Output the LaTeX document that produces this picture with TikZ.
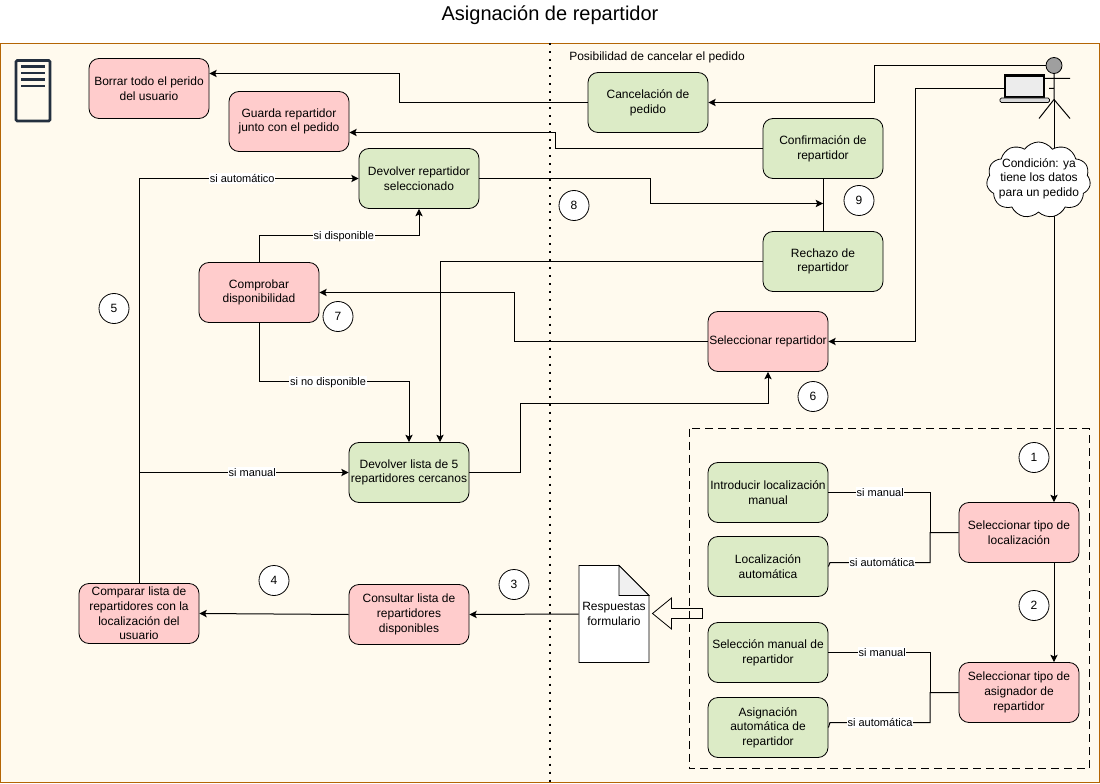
\documentclass[tikz,border=0pt]{standalone}
\usepackage{fontspec}
\setmainfont{Liberation Sans}
\usetikzlibrary{arrows.meta, shapes.symbols, calc}
\definecolor{panelcream}{HTML}{FFFAEE}
\definecolor{panelorange}{HTML}{B46504}
\definecolor{boxgreen}{HTML}{DCEBC6}
\definecolor{boxred}{HTML}{FFCCCC}
\definecolor{servernavy}{HTML}{232F3E}
\tikzset{
  lbl/.style={font=\fontsize{9}{11}\selectfont, text=black, align=center},
  tag/.style={font=\fontsize{8.25}{9}\selectfont, fill=white, inner xsep=0.5pt, inner ysep=0pt, text height=7pt, text depth=1pt},
  card/.style={fill=#1, draw=black, rounded corners=7.5pt, line width=0.6pt, lbl,
               minimum width=90pt, minimum height=45pt, inner sep=0pt},
  card/.default=boxgreen,
  flow/.style={-{Stealth[length=5.5pt,width=5.5pt,inset=1.2pt]}, line width=0.75pt, color=black},
  link/.style={line width=0.75pt, color=black},
  stepnum/.style={circle, draw=black, fill=white, line width=0.6pt, minimum size=22.5pt, inner sep=0pt, lbl},
}
\begin{document}
\begin{tikzpicture}[x=0.75pt, y=-0.75pt]
  \useasboundingbox (0,-0.5) rectangle (1100,783.5);
  \fill[white] (0,-0.5) rectangle (1100,783.5);
  \node[font=\fontsize{15}{18}\selectfont] (title) at (550,14.5) {Asignación de repartidor};
  \draw[fill=panelcream, draw=panelorange, line width=0.75pt] (0.5,43) rectangle (1099.5,782);
  \draw[line width=1.3pt, dash pattern=on 1.5pt off 4.5pt] (550,43) -- (550,782);
  % form arrow
  \draw[black, fill=panelcream, line width=0.6pt] (652.5,613) -- (671.5,597.5) -- (671.5,608) -- (702.5,608) -- (702.5,618) -- (671.5,618) -- (671.5,628.5) -- cycle;
  \draw[dash pattern=on 6pt off 3.75pt, line width=0.6pt] (689,428) rectangle (1089,768);
  \node[lbl, anchor=west, inner sep=0pt] (note) at (569,57) {Posibilidad de cancelar el pedido};
  % server icon
  \draw[servernavy, line width=2pt, rounded corners=1pt] (16,60) rectangle (50,120.5);
  \foreach \y in {66,72.5,79,85.5} { \draw[servernavy, line width=2.1pt] (21,\y) -- (45,\y); }
  % boxes
  \node[card=boxred] (borrar) at (149,88) {Borrar todo el perido\\del usuario};
  \node[card=boxred] (guarda) at (289,121) {Guarda repartidor\\junto con el pedido};
  \node[card] (devrep) at (419,178) {Devolver repartidor\\seleccionado};
  \node[card] (cancel) at (648,102) {Cancelación de\\pedido};
  \node[card] (confirm) at (823,148) {Confirmación de\\repartidor};
  \node[card] (rechazo) at (823,261) {Rechazo de\\repartidor};
  \node[card=boxred] (comprobar) at (259,292) {Comprobar\\disponibilidad};
  \node[card=boxred] (selrep) at (768,341) {Seleccionar repartidor};
  \node[card] (devlista) at (409,472) {Devolver lista de 5\\repartidores cercanos};
  \node[card] (intro) at (768,492) {Introducir localización\\manual};
  \node[card] (locauto) at (768,566) {Localización\\automática};
  \node[card=boxred] (tipoloc) at (1019,532) {Seleccionar tipo de\\localización};
  \node[card] (selman) at (768,652) {Selección manual de\\repartidor};
  \node[card] (asigauto) at (768,727) {Asignación\\automática de\\repartidor};
  \node[card=boxred] (tipoasig) at (1019,692) {Seleccionar tipo de\\asignador de\\repartidor};
  \node[card=boxred] (comparar) at (139,613) {Comparar lista de\\repartidores con la\\localización del\\usuario};
  \node[card=boxred] (consultar) at (409,614) {Consultar lista de\\repartidores\\disponibles};
  % actor
  \coordinate (hip) at (1054,99);
  \draw[link] (1054,73) -- (hip) (1037,78) -- (1070,78) (1049,88) -- (1054,88) (1039,118) -- (hip) -- (1070,118);
  \draw[flow] (hip) -- ($(tipoloc.north)+(35,0)$);
  \node[circle, draw=black, fill=gray!75, line width=0.6pt, minimum size=12pt, inner sep=0pt] (head) at (1054,65) {};
  \node[cloud, cloud puffs=11, cloud puff arc=110, aspect=1.4, draw=black, fill=white, line width=0.6pt, minimum width=78pt, minimum height=57pt, inner sep=0pt] (cond) at (1038.5,179.5) {};
  \node[lbl] (condtxt) at (1039,178) {Condición: ya\\tiene los datos\\para un pedido};
  % laptop
  \draw[black, fill=gray!15, line width=1.6pt] (1005,75) rectangle (1044,97);
  \draw[black, fill=gray!30, line width=0.5pt, rounded corners=1pt] (1000,97.5) rectangle (1049.5,102);
  \coordinate (laptop) at (1005,88);
  % document
  \draw[black, fill=white, line width=0.6pt] (579,565) -- (619,565) -- (649,595) -- (649,662) -- (579,662) -- cycle;
  \draw[black, fill=gray!12, line width=0.6pt] (619,565) -- (619,595) -- (649,595) -- cycle;
  \node[lbl, minimum width=52.5pt, minimum height=72.75pt, inner sep=0pt] (doc) at (614,613.5) {Respuestas\\formulario};
  % connectors
  \draw[flow] (cancel.west) -- (399,102) -- (399,73) -- (borrar.east |- 0,73);
  \draw[flow] (head.west) -- (874,65) -- (874,102) -- (cancel.east);
  \draw[flow] (laptop) -- (915,88) -- (915,341) -- (selrep.east);
  \draw[flow] (confirm.west) -- (555,148) -- (555,132) -- (guarda.east |- 0,132);
  \coordinate (meet) at (823,203);
  \draw[link] (confirm.south) -- (rechazo.north);
  \draw[flow] (devrep.east) -- (650,178) -- (650,203) -- (meet);
  \draw[flow] (rechazo.west) -- (440,261) -- ($(devlista.north)+(31,0)$);
  \draw[flow] (selrep.west) -- (514,341) -- (514,292) -- (comprobar.east);
  \draw[flow] (comprobar.north) -- (259,235) -- node[tag, pos=0.53] (tagdisp) {si disponible} (419,235) -- (devrep.south);
  \draw[flow] (comprobar.south) -- (259,381) -- node[tag, pos=0.46] (tagnodisp) {si no disponible} (409,381) -- (devlista.north);
  \draw[flow] (devlista.east) -- (520,472) -- (520,403) -- (768,403) -- (selrep.south);
  \coordinate (split) at (139,472);
  \draw[flow] (comparar.north) -- (139,178) -- node[tag, pos=0.47] (tagauto) {si automático} (devrep.west);
  \draw[flow] (split) -- node[tag, pos=0.54] (tagman) {si manual} (devlista.west);
  \draw[flow] (consultar.west) -- (comparar.east);
  \draw[flow] (doc.west) -- (consultar.east);
  \draw[flow] ($(tipoloc.south)+(35,0)$) -- ($(tipoasig.north)+(35,0)$);
  \coordinate (busa) at (930,532);
  \coordinate (busb) at (930,692);
  \draw[link] (intro.east) -- node[tag, pos=0.51] (tagsm) {si manual} (930,492) -- (busa);
  \draw[link] (locauto.east) -- (830,562) -- node[tag, pos=0.52] (tagsa) {si automática} (930,562) -- (busa) -- (tipoloc.west);
  \draw[link] (selman.east) -- node[tag, pos=0.53] (tagam) {si manual} (930,652) -- (busb);
  \draw[link] (asigauto.east) -- (830,722) -- node[tag, pos=0.5] (tagaa) {si automática} (930,722) -- (busb) -- (tipoasig.west);
  % numbers
  \foreach \n/\px/\py in {1/1034/457, 2/1034/605, 3/514/584, 4/274/580, 5/114/308, 6/813/396, 7/338/316, 8/574/205, 9/859/200} {
    \node[stepnum] (num\n) at (\px,\py) {\n};
  }
\end{tikzpicture}
\end{document}
